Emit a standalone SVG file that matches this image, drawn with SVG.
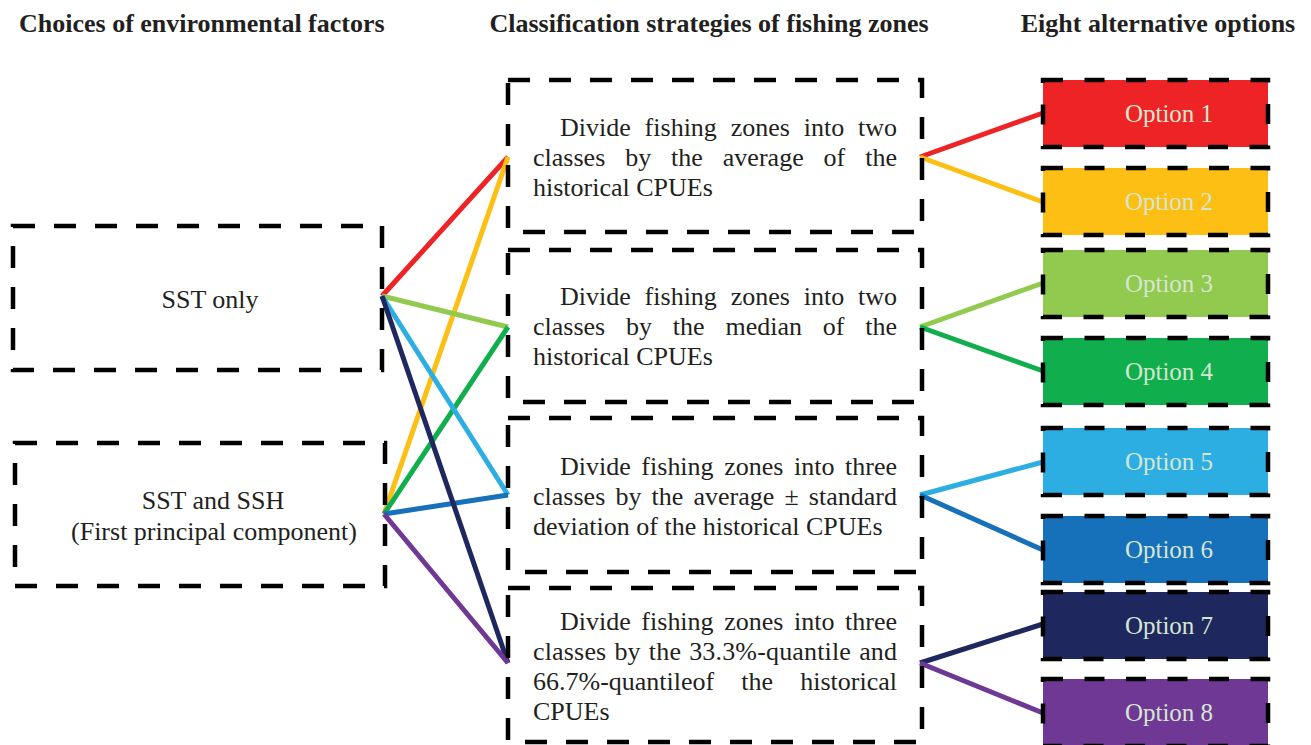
<svg xmlns="http://www.w3.org/2000/svg" width="1311" height="745" viewBox="0 0 1311 745">
<style>
.hdr{font-family:"Liberation Serif","Times New Roman",serif;font-weight:bold;font-size:26px;fill:#231F20}
.txt{font-family:"Liberation Serif","Times New Roman",serif;font-size:26px;fill:#231F20}
.opt{font-family:"Liberation Serif","Times New Roman",serif;font-size:25px;fill:#D5E6D0;text-anchor:middle}
.box{fill:none;stroke:#000;stroke-width:4.5;stroke-dasharray:22 19}
.obox{stroke:#000;stroke-width:4.5;stroke-dasharray:20 21.5}
.ln{fill:none;stroke-width:5;stroke-linecap:butt}
</style>
<rect width="1311" height="745" fill="#fff"/>
<g id="headers">
<text class="hdr" x="19" y="32">Choices of environmental factors</text>
<text class="hdr" x="709" y="32" text-anchor="middle">Classification strategies of fishing zones</text>
<text class="hdr" x="1158" y="32" text-anchor="middle">Eight alternative options</text>
</g>
<g id="connectors">
<line class="ln" stroke="#EE2326" x1="382" y1="296" x2="508" y2="157"/>
<line class="ln" stroke="#FDBF14" x1="384" y1="514" x2="508" y2="157"/>
<line class="ln" stroke="#92C94F" x1="382" y1="296" x2="508" y2="327"/>
<line class="ln" stroke="#10AE4C" x1="384" y1="514" x2="508" y2="327"/>
<line class="ln" stroke="#2DAEE3" x1="382" y1="296" x2="508" y2="495"/>
<line class="ln" stroke="#1670BA" x1="384" y1="514" x2="508" y2="495"/>
<line class="ln" stroke="#1F285E" x1="382" y1="296" x2="508" y2="663"/>
<line class="ln" stroke="#6E3894" x1="384" y1="514" x2="508" y2="663"/>
<line class="ln" stroke="#EE2326" x1="920" y1="157" x2="1043" y2="113"/>
<line class="ln" stroke="#FDBF14" x1="920" y1="157" x2="1043" y2="202"/>
<line class="ln" stroke="#92C94F" x1="920" y1="327" x2="1043" y2="283"/>
<line class="ln" stroke="#10AE4C" x1="920" y1="327" x2="1043" y2="371"/>
<line class="ln" stroke="#2DAEE3" x1="920" y1="495" x2="1043" y2="462"/>
<line class="ln" stroke="#1670BA" x1="920" y1="495" x2="1043" y2="550"/>
<line class="ln" stroke="#1F285E" x1="920" y1="663" x2="1043" y2="624"/>
<line class="ln" stroke="#6E3894" x1="920" y1="663" x2="1043" y2="713"/>
</g>
<g id="env1">
<rect class="box" x="13" y="226" width="369" height="144"/>
<text class="txt" x="210" y="308" text-anchor="middle">SST only</text>
</g>
<g id="env2">
<rect class="box" x="15" y="443" width="370" height="143"/>
<text class="txt" x="213" y="509" text-anchor="middle">SST and SSH</text>
<text class="txt" x="214" y="540" text-anchor="middle">(First principal component)</text>
</g>
<g id="strategy1">
<rect class="box" x="508" y="80" width="414" height="152"/>
<text class="txt" x="560" y="136" word-spacing="7.3" textLength="337" lengthAdjust="spacing">Divide fishing zones into two</text>
<text class="txt" x="533" y="166" word-spacing="13.4" textLength="364" lengthAdjust="spacing">classes by the average of the</text>
<text class="txt" x="533" y="196">historical CPUEs</text>
</g>
<g id="strategy2">
<rect class="box" x="508" y="250" width="414" height="152"/>
<text class="txt" x="560" y="305" word-spacing="7.3" textLength="337" lengthAdjust="spacing">Divide fishing zones into two</text>
<text class="txt" x="533" y="335" word-spacing="14.3" textLength="364" lengthAdjust="spacing">classes by the median of the</text>
<text class="txt" x="533" y="365">historical CPUEs</text>
</g>
<g id="strategy3">
<rect class="box" x="508" y="418" width="414" height="154"/>
<text class="txt" x="560" y="475" word-spacing="4.1" textLength="337" lengthAdjust="spacing">Divide fishing zones into three</text>
<text class="txt" x="533" y="505" word-spacing="3.6" textLength="364" lengthAdjust="spacing">classes by the average ± standard</text>
<text class="txt" x="533" y="535">deviation of the historical CPUEs</text>
</g>
<g id="strategy4">
<rect class="box" x="508" y="588" width="414" height="154"/>
<text class="txt" x="560" y="630" word-spacing="4.1" textLength="337" lengthAdjust="spacing">Divide fishing zones into three</text>
<text class="txt" x="533" y="660" word-spacing="1.4" textLength="364" lengthAdjust="spacing">classes by the 33.3%-quantile and</text>
<text class="txt" x="533" y="690" word-spacing="20.6" textLength="364" lengthAdjust="spacing">66.7%-quantileof the historical</text>
<text class="txt" x="533" y="720">CPUEs</text>
</g>
<g id="option1"><rect class="obox" fill="#EE2326" x="1043" y="80" width="225" height="67"/><text class="opt" x="1169" y="122">Option 1</text></g>
<g id="option2"><rect class="obox" fill="#FDBF14" x="1043" y="168" width="225" height="67"/><text class="opt" x="1169" y="210">Option 2</text></g>
<g id="option3"><rect class="obox" fill="#92C94F" x="1043" y="250" width="225" height="67"/><text class="opt" x="1169" y="292">Option 3</text></g>
<g id="option4"><rect class="obox" fill="#10AE4C" x="1043" y="338" width="225" height="67"/><text class="opt" x="1169" y="380">Option 4</text></g>
<g id="option5"><rect class="obox" fill="#2DAEE3" x="1043" y="428" width="225" height="67"/><text class="opt" x="1169" y="470">Option 5</text></g>
<g id="option6"><rect class="obox" fill="#1670BA" x="1043" y="516" width="225" height="67"/><text class="opt" x="1169" y="558">Option 6</text></g>
<g id="option7"><rect class="obox" fill="#1F285E" x="1043" y="592" width="225" height="67"/><text class="opt" x="1169" y="634">Option 7</text></g>
<g id="option8"><rect class="obox" fill="#6E3894" x="1043" y="679" width="225" height="67"/><text class="opt" x="1169" y="721">Option 8</text></g>
</svg>
